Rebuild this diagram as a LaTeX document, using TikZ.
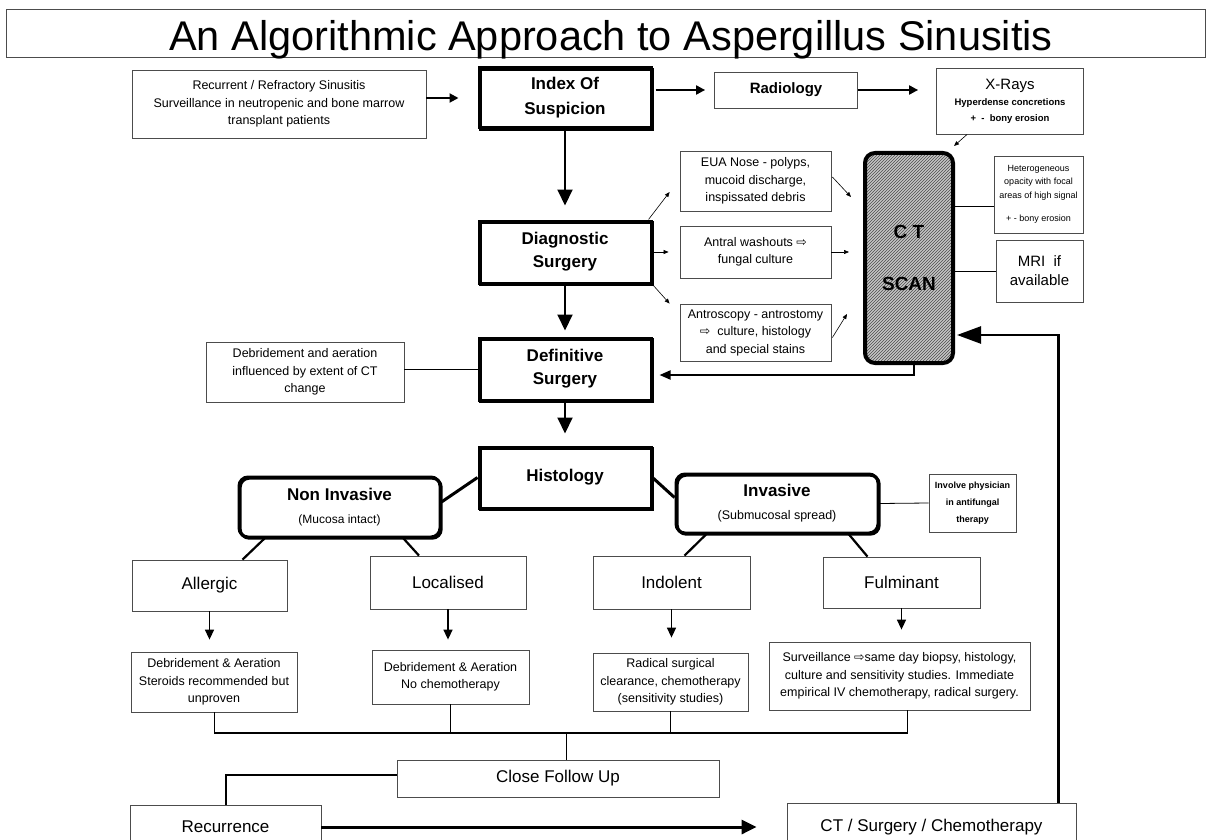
\documentclass[tikz,border=0pt]{standalone}
\usepackage{fontspec}
\setmainfont{Liberation Sans}
\newfontfamily\arrowfont{DejaVu Sans}
\usetikzlibrary{arrows.meta,calc,patterns}

\newcommand{\fsz}[2]{\fontsize{#1}{#2}\selectfont}
\newcommand{\hollow}{{\arrowfont ⇨}}

\tikzset{
    thinbox/.style={draw=black!70, line width=0.8pt, align=center, inner sep=0pt, font=\fsz{12.5}{17.5}},
    catbox/.style={thinbox, font=\fsz{17}{20}},
    mainbox/.style={draw, line width=3pt, align=center, inner sep=0pt, font=\fsz{17}{23}\bfseries,
        preaction={draw, line width=3pt, transform canvas={shift={(1.2pt,-1.2pt)}}}},
    roundbox/.style={mainbox, rounded corners=9pt},
    ctbox/.style={draw, line width=4pt, rounded corners=10pt, preaction={fill=black!22},
        pattern=north east lines, pattern color=black!70, align=center, font=\fsz{19}{52}\bfseries},
    smallarrow/.style={-{Triangle[length=5pt,width=4pt]}, line width=0.6pt},
    midarrow/.style={-{Triangle[length=9pt,width=9pt]}, line width=2pt},
    bigarrow/.style={-{Triangle[length=16pt,width=15pt]}, line width=2pt},
    catarrow/.style={-{Triangle[length=10pt,width=9pt]}, line width=1.5pt},
    returnarrow/.style={-{Triangle[length=11pt,width=9pt]}, line width=2pt},
    backarrow/.style={-{Triangle[length=24pt,width=17pt]}, line width=2.5pt},
    runarrow/.style={-{Triangle[length=15pt,width=14pt]}, line width=3pt},
    thinlink/.style={line width=0.8pt},
    boldlink/.style={line width=3pt},
    branchlink/.style={line width=2.2pt},
    buslink/.style={line width=2.5pt},
    medlink/.style={line width=2pt}
}

\begin{document}
\begin{tikzpicture}[x=1pt, y=-1pt]
    \useasboundingbox (0,0) rectangle (1210,840);
    \clip (0,0) rectangle (1210,840);
    \fill[white] (0,0) rectangle (1210,840);

    \node[draw=black!70, line width=1pt, minimum width=1199pt, minimum height=48pt] (titlebox) at (605.5,34) {};
    \node[anchor=base, font=\fsz{41.5}{41.5}] (title) at (611,51) {An Algorithmic Approach to Aspergillus Sinusitis};

    % top row
    \node[thinbox, minimum width=294pt, minimum height=68pt] (rec) at (279,104) {Recurrent / Refractory Sinusitis\\Surveillance in neutropenic and bone marrow\\transplant patients};
    \node[mainbox, minimum width=172pt, minimum height=60pt, font=\fsz{17}{25}\bfseries] (idx) at (565,98) {Index Of\\Suspicion};
    \node[thinbox, minimum width=143pt, minimum height=36pt, font=\fsz{15}{18}\bfseries] (rad) at (786,90) {Radiology};
    \node[thinbox, minimum width=147pt, minimum height=66pt, font=\fsz{15}{16}] (xr) at (1010,101) {X-Rays\\\fsz{9.5}{15.5}\bfseries Hyperdense concretions\\\fsz{9.5}{15.5}\bfseries + \ - \ bony erosion};

    % CT scan column
    \node[ctbox, minimum width=88pt, minimum height=210pt] (ct) at (909,258) {C T\\SCAN};
    \node[thinbox, minimum width=89pt, minimum height=77pt, font=\fsz{9}{13.5}] (het) at (1038.5,194.5) {Heterogeneous\\opacity with focal\\areas of high signal\\[10pt]+ - bony erosion};
    \node[thinbox, minimum width=87pt, minimum height=62pt, font=\fsz{15}{19}] (mri) at (1039.5,271) {MRI\ \ if\\available};
    \node[thinbox, minimum width=151pt, minimum height=60pt] (eua) at (755.5,181) {EUA Nose - polyps,\\mucoid discharge,\\inspissated debris};
    \node[thinbox, minimum width=151pt, minimum height=52pt] (ant) at (755.5,252) {Antral washouts \hollow\\fungal culture};
    \node[thinbox, minimum width=151pt, minimum height=57pt] (ascp) at (755.5,332.5) {Antroscopy - antrostomy\\\hollow\ \ culture, histology\\and special stains};

    % main column
    \node[mainbox, minimum width=172pt, minimum height=62pt] (diag) at (565,252) {Diagnostic\\Surgery};
    \node[mainbox, minimum width=172pt, minimum height=62pt] (def) at (565,369) {Definitive\\Surgery};
    \node[thinbox, minimum width=198pt, minimum height=60pt] (debr) at (305,372) {Debridement and aeration\\influenced by extent of CT\\change};
    \node[mainbox, minimum width=172pt, minimum height=61pt] (hist) at (565,477.5) {Histology};

    \node[roundbox, minimum width=201pt, minimum height=60pt] (noninv) at (339.5,507) {Non Invasive\\\fsz{12}{22}\mdseries(Mucosa intact)};
    \node[roundbox, minimum width=202pt, minimum height=59pt] (inv) at (777,503.5) {Invasive\\\fsz{12.5}{22}\mdseries(Submucosal spread)};
    \node[thinbox, minimum width=87pt, minimum height=58pt, font=\fsz{9}{17}\bfseries] (phys) at (972.5,503) {Involve physician\\in antifungal\\therapy};

    \node[catbox, minimum width=155pt, minimum height=51pt] (allg) at (209.5,585.5) {Allergic};
    \node[catbox, minimum width=156pt, minimum height=53pt] (loc) at (448,582.5) {Localised};
    \node[catbox, minimum width=157pt, minimum height=53pt] (indl) at (671.5,582.5) {Indolent};
    \node[catbox, minimum width=157pt, minimum height=51pt] (fulm) at (901.5,582.5) {Fulminant};

    \node[thinbox, minimum width=166pt, minimum height=60pt] (trtA) at (214,682) {Debridement \& Aeration\\Steroids recommended but\\unproven};
    \node[thinbox, minimum width=157pt, minimum height=54pt] (trtB) at (450.5,677) {Debridement \& Aeration\\No chemotherapy};
    \node[thinbox, minimum width=155pt, minimum height=58pt] (trtC) at (670.5,682) {Radical surgical\\clearance, chemotherapy\\(sensitivity studies)};
    \node[thinbox, minimum width=261pt, minimum height=68pt] (trtD) at (899.5,676) {Surveillance \hollow same day biopsy, histology,\\culture and sensitivity studies. Immediate\\empirical IV chemotherapy, radical surgery.};

    \node[catbox, minimum width=322pt, minimum height=37pt] (follow) at (558,778.5) {Close Follow Up};
    \node[catbox, minimum width=191pt, minimum height=44pt] (recur) at (225.5,827) {Recurrence};
    \node[catbox, minimum width=289pt, minimum height=48pt] (cts) at (931.5,827) {CT / Surgery / Chemotherapy};
    \coordinate (bus) at (0,733);

    % connectors
    \draw[midarrow, shorten >=19pt] (rec.east |- idx.west) -- (idx.west);
    \draw[midarrow, shorten <=3pt, shorten >=9pt] (idx.east |- rad.west) -- (rad.west);
    \draw[midarrow, shorten >=18pt] (rad.east) -- (xr.west |- rad.east);
    \draw[smallarrow] ([xshift=31pt]xr.south west) -- ($(ct.north east)+(-1,-5)$);

    \draw[bigarrow, shorten >=14pt] (idx) -- (diag);
    \draw[bigarrow, shorten >=6pt] (diag) -- (def);
    \draw[bigarrow, shorten >=12pt] (def) -- (hist);

    \draw[smallarrow] ([xshift=-4pt]diag.north east) -- ($(eua.west)+(-10,11)$);
    \draw[smallarrow, shorten >=11pt] (diag.east) -- (ant.west);
    \draw[smallarrow] (diag.south east) -- ($(ascp.north west)+(-10,0)$);
    \draw[smallarrow] ($(eua.east)+(1,-4)$) -- ($(ct.north west)+(-12,46)$);
    \draw[smallarrow, shorten >=14pt] (ant.east) -- (ct.west |- ant.east);
    \draw[smallarrow] ($(ascp.east)+(1,5)$) -- ($(ct.south west)+(-16,-51)$);

    \draw[thinlink] ($(ct.east |- het.west)+(0,11.5)$) -- ($(het.west)+(0,11.5)$);
    \draw[thinlink] (ct.east |- mri.west) -- (mri.west);
    \draw[returnarrow, shorten >=7pt] ([xshift=5pt]ct.south) |- ($(def.east)+(0,6)$);
    \draw[backarrow, shorten >=2pt] ([xshift=-18pt]cts.north east) |- ($(ct.south east)+(0,-30)$);
    \draw[thinlink] (def.west) -- (debr.east |- def.west);

    \draw[boldlink] (hist.west) -- ($(noninv.east)+(0,-5)$);
    \draw[boldlink] (hist.east) -- ($(inv.west)+(0,-6)$);
    \draw[thinlink] (inv.east) -- (phys.west);
    \draw[branchlink] ($(noninv.south)+(-75,0)$) -- ($(allg.north)+(33,0)$);
    \draw[branchlink] ($(noninv.south)+(64,0)$) -- ($(loc.north)+(-29,0)$);
    \draw[branchlink] ($(inv.south)+(-71,0)$) -- ($(indl.north)+(13,0)$);
    \draw[branchlink] ($(inv.south)+(72,0)$) -- ($(fulm.north)+(-34,0)$);

    \draw[catarrow, shorten >=12pt] (allg.south) -- (allg.south |- trtA.north);
    \draw[catarrow, shorten >=10pt] (loc.south) -- (loc.south |- trtB.north);
    \draw[catarrow, shorten >=15pt] (indl.south) -- (indl.south |- trtC.north);
    \draw[catarrow, shorten >=12pt] (fulm.south) -- (fulm.south |- trtD.north);

    \draw[buslink] (trtA.south |- bus) -- ($(trtD.south |- bus)+(8,0)$);
    \foreach \n in {trtA, trtB, trtC}
        \draw[thinlink] (\n.south) -- (\n.south |- bus);
    \draw[thinlink] ($(trtD.south)+(8,0)$) -- ($(trtD.south |- bus)+(8,0)$);
    \draw[thinlink] ($(follow.north)+(8,0)$) -- ($(follow.north |- bus)+(8,0)$);
    \draw[medlink] ($(follow.west)+(0,-3.5)$) -| (recur.north);
    \draw[runarrow, shorten >=30pt] (recur.east) -- (cts.west);
\end{tikzpicture}
\end{document}
